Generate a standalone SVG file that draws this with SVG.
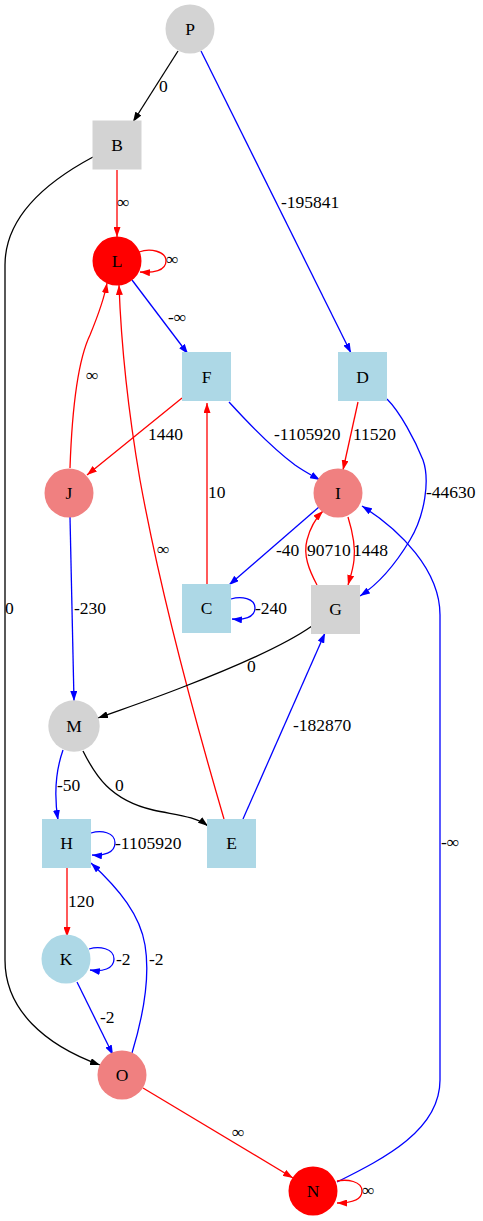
<svg xmlns="http://www.w3.org/2000/svg" width="483" height="1221" viewBox="0 0 483 1221">
<style>
text{font-family:"Liberation Serif","Times New Roman",serif;font-size:17.5px;fill:#000}
.nl{text-anchor:middle}
.e{fill:none;stroke-width:1.3}
.k{stroke:#000;marker-end:url(#ak)}
.b{stroke:#0000ff;marker-end:url(#ab)}
.r{stroke:#ff0000;marker-end:url(#ar)}
.gray{fill:#d3d3d3}
.lb{fill:#add8e6}
.lc{fill:#f08080}
.rd{fill:#ff0000}
</style>
<defs>
<marker id="ak" markerUnits="userSpaceOnUse" markerWidth="10" markerHeight="7" refX="10" refY="3.5" orient="auto"><path d="M0,0 L10,3.5 L0,7 z" fill="#000"/></marker>
<marker id="ab" markerUnits="userSpaceOnUse" markerWidth="10" markerHeight="7" refX="10" refY="3.5" orient="auto"><path d="M0,0 L10,3.5 L0,7 z" fill="#0000ff"/></marker>
<marker id="ar" markerUnits="userSpaceOnUse" markerWidth="10" markerHeight="7" refX="10" refY="3.5" orient="auto"><path d="M0,0 L10,3.5 L0,7 z" fill="#ff0000"/></marker>
</defs>
<rect width="483" height="1221" fill="#fff"/>
<g id="connectors">
<path class="e k" d="M178,51 L133,122"/><text x="159" y="92">0</text>
<path class="e b" d="M201,51 L351,353"/><text x="281" y="208">-195841</text>
<path class="e r" d="M117,170 L117,237"/><text x="117" y="208">∞</text>
<path class="e k" d="M93,157 C50,180 5,215 5,265 L5,960 C5,1010 45,1045 100,1065"/><text x="5" y="614">0</text>
<path class="e r" d="M139,252 C150,248 166,251 166,261 C166,271 153,273 140,272"/><text x="166" y="265">∞</text>
<path class="e b" d="M132,280 L188,354"/><text x="168" y="323">-∞</text>
<path class="e r" d="M70,468 C72,410 78,360 90,335 C97,318 104,300 107,283"/><text x="86" y="381">∞</text>
<path class="e r" d="M224,819 C195,720 160,590 140,480 C128,410 121,340 119,285"/><text x="157" y="555">∞</text>
<path class="e r" d="M182,398 L87,475"/><text x="148" y="440">1440</text>
<path class="e b" d="M229,402 C250,425 275,450 295,465 C305,472 313,476 320,480"/><text x="274" y="440">-1105920</text>
<path class="e r" d="M207,584 L207,403"/><text x="208" y="498">10</text>
<path class="e r" d="M358,402 L343,470"/><text x="353" y="440">11520</text>
<path class="e b" d="M387,399 C400,412 415,440 423,460 C430,480 425,515 410,540 C398,560 380,583 360,596"/><text x="426" y="498">-44630</text>
<path class="e b" d="M319,507 L229,585"/><text x="276" y="556">-40</text>
<path class="e r" d="M317,585 C309,570 303,555 307,540 C310,528 316,518 323,511"/><text x="307" y="556">90710</text>
<path class="e r" d="M348,517 C352,530 356,545 354,560 C353,570 350,578 348,585"/><text x="353" y="556">1448</text>
<path class="e b" d="M231,599 C241,596 255,598 255,608 C255,618 243,620 232,619"/><text x="255" y="614">-240</text>
<path class="e b" d="M70,517 L74,701"/><text x="74" y="614">-230</text>
<path class="e k" d="M312,626 C285,645 240,665 183,687 C150,700 120,710 98,718"/><text x="247" y="672">0</text>
<path class="e b" d="M243,819 L325,633"/><text x="293" y="731">-182870</text>
<path class="e b" d="M337,1182 C385,1158 440,1130 440,1080 L440,615 C440,570 400,530 362,506"/><text x="441" y="848">-∞</text>
<path class="e b" d="M63,750 C56,770 54,795 58,820"/><text x="57" y="791">-50</text>
<path class="e k" d="M83,751 C95,775 110,800 153,810 C175,815 195,816 208,826"/><text x="115" y="791">0</text>
<path class="e b" d="M91,833 C101,830 115,832 115,843 C115,853 103,856 92,855"/><text x="115" y="849">-1105920</text>
<path class="e r" d="M67,868 L67,937"/><text x="68" y="907">120</text>
<path class="e b" d="M132,1053 C145,1010 150,975 145,945 C140,915 120,890 91,863"/><text x="149" y="965">-2</text>
<path class="e b" d="M89,949 C99,946 114,948 114,959 C114,969 102,972 90,970"/><text x="116" y="965">-2</text>
<path class="e b" d="M77,982 L113,1055"/><text x="100" y="1023">-2</text>
<path class="e r" d="M143,1088 L293,1178"/><text x="232" y="1138">∞</text>
<path class="e r" d="M337,1181 C347,1179 362,1181 362,1191 C362,1201 350,1203 337,1203"/><text x="362" y="1196">∞</text>
</g>
<g id="node-P"><circle class="gray" cx="190" cy="29" r="24.5"/><text class="nl" x="190" y="35">P</text></g>
<g id="node-B"><rect class="gray" x="92.5" y="120.5" width="49" height="49"/><text class="nl" x="117" y="151">B</text></g>
<g id="node-L"><circle class="rd" cx="117" cy="261" r="24.5"/><text class="nl" x="117" y="267">L</text></g>
<g id="node-F"><rect class="lb" x="182" y="352" width="49" height="49"/><text class="nl" x="206.5" y="383">F</text></g>
<g id="node-D"><rect class="lb" x="338" y="352" width="49" height="49"/><text class="nl" x="362.5" y="383">D</text></g>
<g id="node-J"><circle class="lc" cx="69" cy="493" r="24.5"/><text class="nl" x="69" y="499">J</text></g>
<g id="node-I"><circle class="lc" cx="338" cy="493" r="24.5"/><text class="nl" x="338" y="499">I</text></g>
<g id="node-C"><rect class="lb" x="182" y="584" width="49" height="49"/><text class="nl" x="206.5" y="614">C</text></g>
<g id="node-G"><rect class="gray" x="311" y="585" width="49" height="49"/><text class="nl" x="335.5" y="615">G</text></g>
<g id="node-M"><circle class="gray" cx="74" cy="726" r="25.7"/><text class="nl" x="74" y="732">M</text></g>
<g id="node-H"><rect class="lb" x="42" y="819" width="49" height="49"/><text class="nl" x="66.5" y="849">H</text></g>
<g id="node-E"><rect class="lb" x="207" y="819" width="49" height="49"/><text class="nl" x="231.5" y="849">E</text></g>
<g id="node-K"><circle class="lb" cx="66" cy="959" r="24.5"/><text class="nl" x="66" y="965">K</text></g>
<g id="node-O"><circle class="lc" cx="122" cy="1075" r="24.5"/><text class="nl" x="122" y="1081">O</text></g>
<g id="node-N"><circle class="rd" cx="313" cy="1191" r="24.5"/><text class="nl" x="313" y="1197">N</text></g>
</svg>
